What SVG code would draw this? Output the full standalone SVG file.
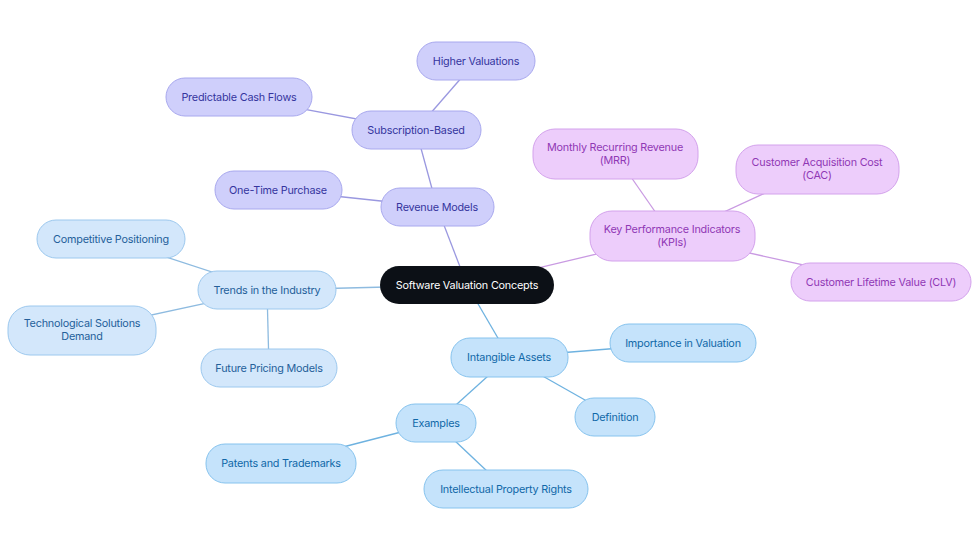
<svg xmlns="http://www.w3.org/2000/svg" width="980" height="553" viewBox="0 0 980 553">
<style>
text{font-family:Inter,"Liberation Sans",sans-serif;font-size:10.8px;letter-spacing:-0.2px;text-anchor:middle;dominant-baseline:central}
.p rect{fill:#cfcffb;stroke:#a8a8ee;stroke-width:1}
.p text{fill:#35359e}
.k rect{fill:#edcdfb;stroke:#d3a2ec;stroke-width:1}
.k text{fill:#9038b5}
.b rect{fill:#c5e3fb;stroke:#86c3ee;stroke-width:1}
.b text{fill:#1068a8}
.t rect{fill:#d3e7fb;stroke:#9cc8ee;stroke-width:1}
.t text{fill:#24609a}
#edges line{stroke-width:1.3}
.ep{stroke:#9a98e0}.ek{stroke:#c99ae2}.eb{stroke:#6eb2e0}.et{stroke:#8ebbe0}
</style>
<rect width="980" height="553" fill="#fff"/>
<g id="edges">
<line class="ep" x1="467" y1="285" x2="437" y2="207"/>
<line class="ep" x1="437" y1="207" x2="416" y2="130"/>
<line class="ep" x1="416" y1="130" x2="476" y2="61"/>
<line class="ep" x1="416" y1="130" x2="239" y2="97"/>
<line class="ep" x1="437" y1="207" x2="278" y2="190"/>
<line class="ek" x1="467" y1="285" x2="672" y2="236"/>
<line class="ek" x1="672" y1="236" x2="615" y2="154"/>
<line class="ek" x1="672" y1="236" x2="817" y2="169"/>
<line class="ek" x1="672" y1="236" x2="881" y2="282"/>
<line class="et" x1="467" y1="285" x2="267" y2="290"/>
<line class="et" x1="267" y1="290" x2="111" y2="239"/>
<line class="et" x1="267" y1="290" x2="82" y2="330"/>
<line class="et" x1="267" y1="290" x2="269" y2="368"/>
<line class="eb" x1="467" y1="285" x2="509" y2="357"/>
<line class="eb" x1="509" y1="357" x2="683" y2="343"/>
<line class="eb" x1="509" y1="357" x2="615" y2="417"/>
<line class="eb" x1="509" y1="357" x2="436" y2="423"/>
<line class="eb" x1="436" y1="423" x2="281" y2="463"/>
<line class="eb" x1="436" y1="423" x2="506" y2="489"/>
</g>
<g id="root"><rect x="380" y="266" width="174" height="38" rx="19" fill="#0c1016"/><text x="467" y="285" fill="#fff">Software Valuation Concepts</text></g>
<g id="revenue" class="p"><rect x="381" y="188" width="113" height="38" rx="19"/><text x="437" y="207">Revenue Models</text></g>
<g id="subscription" class="p"><rect x="352" y="111" width="129" height="38" rx="19"/><text x="416" y="130">Subscription-Based</text></g>
<g id="higher" class="p"><rect x="417" y="42" width="118" height="38" rx="19"/><text x="476" y="61">Higher Valuations</text></g>
<g id="predictable" class="p"><rect x="166" y="78" width="146" height="38" rx="19"/><text x="239" y="97">Predictable Cash Flows</text></g>
<g id="onetime" class="p"><rect x="215" y="171" width="127" height="38" rx="19"/><text x="278" y="190">One-Time Purchase</text></g>
<g id="kpi" class="k"><rect x="590" y="211" width="165" height="50" rx="22"/><text x="672" y="229.5">Key Performance Indicators</text><text x="672" y="242.5">(KPIs)</text></g>
<g id="mrr" class="k"><rect x="533" y="129" width="165" height="50" rx="22"/><text x="615" y="147.5">Monthly Recurring Revenue</text><text x="615" y="160.5">(MRR)</text></g>
<g id="cac" class="k"><rect x="736" y="145" width="163" height="49" rx="22"/><text x="817" y="162.5">Customer Acquisition Cost</text><text x="817" y="175.5">(CAC)</text></g>
<g id="clv" class="k"><rect x="791" y="263" width="180" height="38" rx="19"/><text x="881" y="282">Customer Lifetime Value (CLV)</text></g>
<g id="trends" class="t"><rect x="198" y="271" width="138" height="38" rx="19"/><text x="267" y="290">Trends in the Industry</text></g>
<g id="competitive" class="t"><rect x="37" y="220" width="148" height="38" rx="19"/><text x="111" y="239">Competitive Positioning</text></g>
<g id="tech" class="t"><rect x="8" y="306" width="148" height="49" rx="22"/><text x="82" y="323.5">Technological Solutions</text><text x="82" y="336.5">Demand</text></g>
<g id="future" class="t"><rect x="201" y="349" width="136" height="38" rx="19"/><text x="269" y="368">Future Pricing Models</text></g>
<g id="intangible" class="b"><rect x="451" y="338" width="117" height="39" rx="19"/><text x="509" y="357">Intangible Assets</text></g>
<g id="importance" class="b"><rect x="610" y="324" width="146" height="38" rx="19"/><text x="683" y="343">Importance in Valuation</text></g>
<g id="definition" class="b"><rect x="575" y="398" width="80" height="38" rx="19"/><text x="615" y="417">Definition</text></g>
<g id="examples" class="b"><rect x="396" y="404" width="80" height="38" rx="19"/><text x="436" y="423">Examples</text></g>
<g id="patents" class="b"><rect x="206" y="444" width="150" height="39" rx="19"/><text x="281" y="463">Patents and Trademarks</text></g>
<g id="ip" class="b"><rect x="424" y="470" width="164" height="38" rx="19"/><text x="506" y="489">Intellectual Property Rights</text></g>
</svg>
